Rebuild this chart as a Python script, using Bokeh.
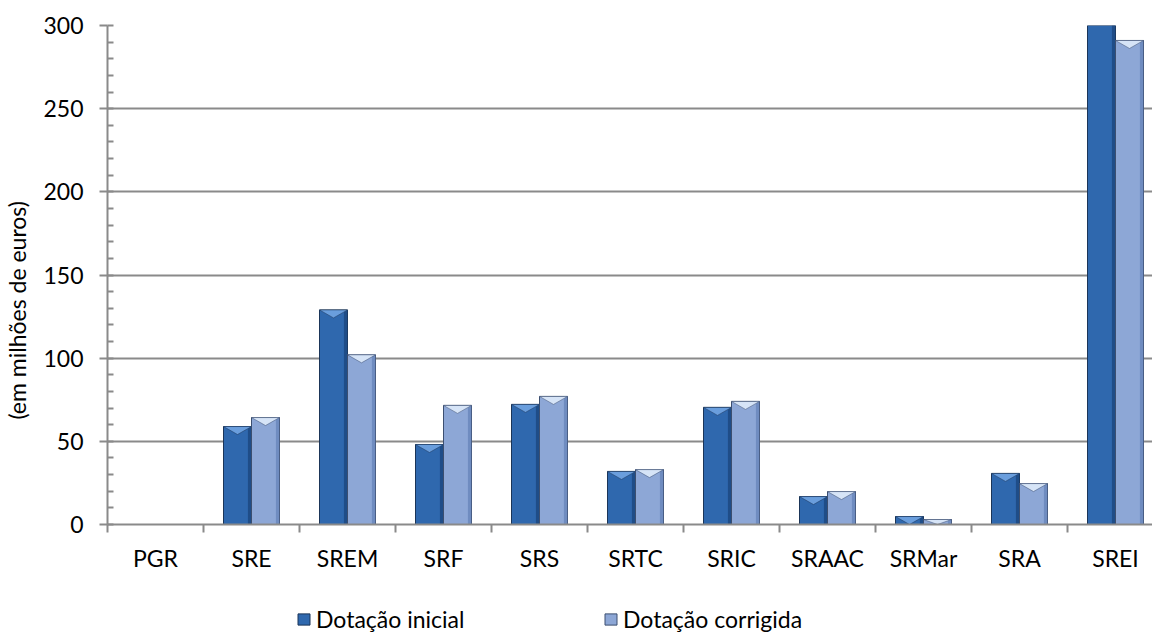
from bokeh.plotting import figure
from bokeh.layouts import column
from bokeh.models import (ColumnDataSource, FixedTicker, SingleIntervalTicker, Range1d,
                          Legend, LegendItem)
from bokeh.embed import file_html
from bokeh.resources import INLINE

categories = ["PGR", "SRE", "SREM", "SRF", "SRS", "SRTC", "SRIC", "SRAAC", "SRMar", "SRA", "SREI"]
dotacao_inicial = [0, 58.9, 129.0, 48.1, 72.2, 31.9, 70.4, 16.8, 4.8, 30.7, 320.0]
dotacao_corrigida = [0, 64.3, 102.0, 71.6, 77.0, 33.0, 74.0, 19.8, 3.0, 24.6, 291.0]
series_names = ["Dotação inicial", "Dotação corrigida"]
y_label = "(em milhões de euros)"

FONT = "Lato"
FS = "23px"
W, H = 1152, 633
LEG_H = 50
MAIN_H = H - LEG_H
LEFT, TOP = 107, 25
FRAME_BOTTOM = 524
CAT_PX = 96.0
frame_w = W - LEFT
frame_h = FRAME_BOTTOM - TOP
y_max = 300
px_per_unit = frame_h / y_max

p = figure(width=W, height=MAIN_H, output_backend="svg", toolbar_location=None,
           x_range=Range1d(-0.5, -0.5 + frame_w / CAT_PX), y_range=Range1d(0, y_max),
           min_border_left=LEFT, min_border_right=0, min_border_top=TOP,
           min_border_bottom=MAIN_H - FRAME_BOTTOM)
p.outline_line_color = None
p.background_fill_color = "white"
p.border_fill_color = "white"

# grid
p.xgrid.grid_line_color = None
p.ygrid.grid_line_color = "#8a8a8a"
p.ygrid.grid_line_width = 2

# axes
idx = list(range(len(categories)))
p.xaxis.ticker = FixedTicker(ticks=idx, minor_ticks=[i - 0.5 for i in range(len(categories) + 1)])
p.xaxis.major_label_overrides = {i: c for i, c in zip(idx, categories)}
p.xaxis.major_tick_out = 0
p.xaxis.major_tick_in = 0
p.xaxis.minor_tick_out = 8
p.xaxis.minor_tick_in = 0
p.xaxis.minor_tick_line_color = "#8a8a8a"
p.xaxis.minor_tick_line_width = 2
p.xaxis.axis_line_color = "#8a8a8a"
p.xaxis.axis_line_width = 2
p.xaxis.major_label_standoff = 11
p.xaxis.major_label_text_font = FONT
p.xaxis.major_label_text_font_size = FS
p.xaxis.major_label_text_color = "black"

p.yaxis.ticker = SingleIntervalTicker(interval=50, num_minor_ticks=5)
p.yaxis.major_tick_out = 8
p.yaxis.major_tick_in = 0
p.yaxis.minor_tick_in = 6
p.yaxis.minor_tick_out = 0
p.yaxis.major_tick_line_color = "#8a8a8a"
p.yaxis.minor_tick_line_color = "#8a8a8a"
p.yaxis.major_tick_line_width = 2
p.yaxis.minor_tick_line_width = 2
p.yaxis.axis_line_color = "#8a8a8a"
p.yaxis.axis_line_width = 2
p.yaxis.major_label_standoff = 16
p.yaxis.major_label_text_font = FONT
p.yaxis.major_label_text_font_size = FS
p.yaxis.major_label_text_color = "black"
p.yaxis.axis_label = y_label + "\u00a0" * 12
p.yaxis.axis_label_standoff = 9
p.yaxis.axis_label_text_font = FONT
p.yaxis.axis_label_text_font_style = "normal"
p.yaxis.axis_label_text_font_size = FS
p.yaxis.axis_label_text_color = "black"

bar_w = 28 / CAT_PX
offsets = [-bar_w / 2, bar_w / 2]
fills = ["#2F68AE", "#8DA7D6"]
rights = ["#1F4D88", "#6F8CC0"]
tops = ["#6A9EDD", "#D6E4F7"]
edges = ["#1B3558", "#3C4F70"]
chev_depth = 8 / px_per_unit

for s, vals in enumerate([dotacao_inicial, dotacao_corrigida]):
    xs = [i + offsets[s] for i, v in zip(idx, vals) if v > 0]
    vs = [v for v in vals if v > 0]
    src = ColumnDataSource(dict(x=xs, top=vs))
    p.vbar(x="x", top="top", width=bar_w, source=src, fill_color=fills[s],
           line_color=edges[s], line_width=1)
    strip = ColumnDataSource(dict(x=[x + bar_w / 2 - 0.02 for x in xs], top=vs))
    p.vbar(x="x", top="top", width=0.035, source=strip, fill_color=rights[s], line_color=None)
    cx, cy = [], []
    for x, v in zip(xs, vs):
        d = min(chev_depth, v)
        cx.append([x - bar_w / 2, x + bar_w / 2, x])
        cy.append([v, v, v - d])
    p.patches(cx, cy, fill_color=tops[s], line_color=edges[s], line_width=0.5)

# legend strip (separate small figure below the chart; frames are aligned by the column)
lf = figure(width=W, height=LEG_H, output_backend="svg", toolbar_location=None,
            x_range=Range1d(0, 1), y_range=Range1d(0, 1),
            min_border_left=LEFT, min_border_right=0, min_border_top=0, min_border_bottom=0)
lf.axis.visible = False
lf.grid.visible = False
lf.outline_line_color = None
lf.border_fill_color = "white"
leg_x = [296 - LEFT, 603 - LEFT]
for s in range(2):
    dummy = lf.vbar(x=[5], top=[1], width=0.1, fill_color=fills[s], line_color=edges[s])
    lg = Legend(items=[LegendItem(label=series_names[s], renderers=[dummy])],
                location=(leg_x[s], 0), orientation="horizontal",
                glyph_width=15, glyph_height=14, label_standoff=5, padding=0, margin=0,
                label_height=14,
                label_text_font=FONT, label_text_font_size=FS, label_text_color="black",
                border_line_color=None, background_fill_alpha=0)
    lf.add_layout(lg, "center")

layout = column(p, lf, spacing=0)
open("out.html", "w").write(file_html(layout, INLINE))
